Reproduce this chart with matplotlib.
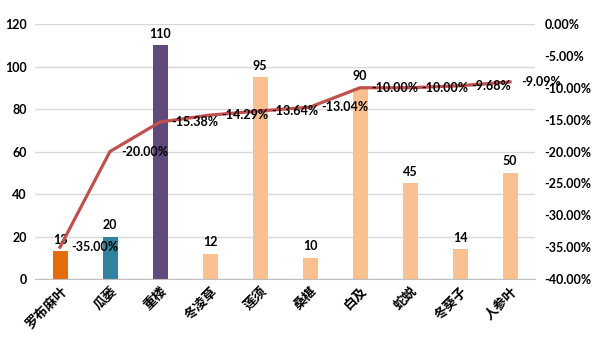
import matplotlib.pyplot as plt
import numpy as np
from matplotlib.ticker import FuncFormatter

plt.rcParams['font.family'] = ['Noto Sans CJK SC', 'DejaVu Sans']

herbs = ['罗布麻叶', '瓜蒌', '重楼', '冬凌草', '莲须', '桑椹', '白及', '蛇蜕', '冬葵子', '人参叶']
counts = [13, 20, 110, 12, 95, 10, 90, 45, 14, 50]
rates = [-35.00, -20.00, -15.38, -14.29, -13.64, -13.04, -10.00, -10.00, -9.68, -9.09]
bar_colors = ['#E46C0A', '#31849B', '#604A7B'] + ['#FAC090'] * 7

num_font = 'Lato'

fig = plt.figure(figsize=(6, 3.39), dpi=100)
ax = fig.add_axes([35 / 600, 60 / 339, 500 / 600, 255 / 339])
x = np.arange(len(herbs))

ax.bar(x, counts, width=0.3, color=bar_colors, zorder=2)
for xi, v in zip(x, counts):
    ax.annotate(str(v), (xi, v), xytext=(0, 4), textcoords='offset points',
                ha='center', va='bottom', fontsize=9, fontweight='bold', family=num_font)

ax.set_xlim(-0.5, len(herbs) - 0.5)
ax.set_ylim(0, 120)
ax.set_yticks(range(0, 121, 20))
ax.grid(axis='y', color='#D9D9D9', linewidth=1, zorder=0)
for s in ['top', 'right', 'left']:
    ax.spines[s].set_visible(False)
ax.spines['bottom'].set_color('#BFBFBF')
ax.tick_params(axis='both', length=0)
ax.tick_params(axis='y', pad=6)
ax.set_xticks(x)
ax.set_xticklabels(herbs, rotation=45, ha='right', rotation_mode='anchor',
                   fontsize=9.5, fontweight='bold')
for lab in ax.get_yticklabels():
    lab.set_fontweight('bold')
    lab.set_fontsize(9)
    lab.set_family(num_font)

ax2 = ax.twinx()
ax2.plot(x, rates, color='#C0504D', linewidth=2.3, zorder=3)
for xi, r in zip(x, rates):
    ax2.annotate('%.2f%%' % r, (xi, r), xytext=(8, 0), textcoords='offset points',
                 ha='left', va='center', fontsize=9, fontweight='bold', family=num_font)
ax2.set_ylim(-40, 0)
ax2.set_yticks(range(-40, 1, 5))
ax2.yaxis.set_major_formatter(FuncFormatter(lambda v, p: '%.2f%%' % v))
for s in ['top', 'right', 'left', 'bottom']:
    ax2.spines[s].set_visible(False)
ax2.tick_params(axis='y', length=0, pad=7)
for lab in ax2.get_yticklabels():
    lab.set_fontweight('bold')
    lab.set_fontsize(9)
    lab.set_family(num_font)

fig.savefig('out.png', dpi=100)
